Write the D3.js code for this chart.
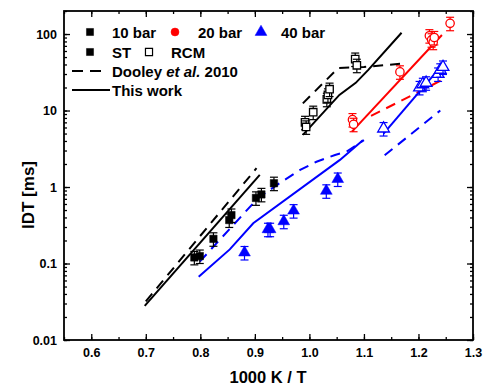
<!DOCTYPE html>
<html>
<head>
<meta charset="utf-8">
<script src="https://cdn.jsdelivr.net/npm/d3@7/dist/d3.min.js"></script>
<style>
  html, body { margin: 0; padding: 0; background: #fff; }
  svg { display: block; font-family: Arial, "Liberation Sans", sans-serif; }
</style>
</head>
<body>
<svg id="chart" width="483" height="387"></svg>
<script>
// ---- data: [1000K/T, IDT ms] ----
const st10 = [[0.789, 0.12], [0.799, 0.125], [0.824, 0.21], [0.853, 0.37], [0.857, 0.43],
  [0.902, 0.72], [0.912, 0.80], [0.935, 1.12]];
const st40 = [[0.881, 0.139], [0.924, 0.28], [0.928, 0.28], [0.953, 0.356], [0.971, 0.49],
  [1.031, 0.89], [1.052, 1.27]];
const rcm10 = [[0.992, 7.0], [0.994, 6.1], [1.007, 9.5], [1.032, 14], [1.034, 16],
  [1.037, 19], [1.084, 47], [1.087, 39]];
const rcm20 = [[1.079, 7.6], [1.081, 6.6], [1.166, 32], [1.22, 95], [1.224, 84],
  [1.227, 78], [1.229, 90], [1.258, 138]];
const rcm40 = [[1.136, 5.8], [1.202, 20], [1.208, 22], [1.214, 23], [1.236, 30],
  [1.24, 34], [1.245, 37]];
const errFrac = 0.2;

// model curves
const dooley10st = [[0.70, 0.032], [0.903, 1.76]];
const work10st = [[0.698, 0.028], [0.909, 1.44]];
const dooley10rcm = [[0.988, 12.4], [1.053, 36], [1.10, 37], [1.17, 41]];
const work10rcm = [[0.988, 4.8], [1.055, 16], [1.085, 23], [1.108, 34], [1.169, 104]];
const dooley20rcm = [[1.113, 8.5], [1.243, 25]];
const work20rcm = [[1.078, 5.3], [1.243, 97]];
const dooley40st = [[0.799, 0.106], [0.906, 0.72], [0.949, 1.17], [0.983, 1.67],
  [1.013, 2.14], [1.047, 2.62], [1.068, 2.9], [1.10, 4.1]];
const work40st = [[0.797, 0.067], [0.854, 0.153], [0.897, 0.336], [1.056, 2.26], [1.098, 4.1]];
const dooley40rcm = [[1.138, 2.6], [1.24, 10]];
const work40rcm = [[1.136, 5.0], [1.243, 39]];

const xTicks = [0.6, 0.7, 0.8, 0.9, 1.0, 1.1, 1.2, 1.3];
const yTicks = [0.01, 0.1, 1, 10, 100];

const colors = { black: '#000000', red: '#ff0000', blue: '#0000ff' };

const svg = d3.select('#chart');
const x = d3.scaleLinear().domain([0.55, 1.3]).range([64, 473]);
const y = d3.scaleLog().domain([0.01, 200]).range([340, 11]);

// ---- axes (inward ticks on all sides) ----
const xMinor = d3.range(0.55, 1.301, 0.05).map(v => +v.toFixed(2));
const yMinor = [];
[0.01, 0.1, 1, 10, 100].forEach(d => { for (let k = 1; k <= 9; k++) if (d * k <= 200) yMinor.push(d * k); });

function styleAxis(g) {
  g.select('.domain').remove();
  g.selectAll('line').attr('stroke', '#000').attr('stroke-width', 1.3);
  g.selectAll('text').attr('font-size', 12.5).attr('font-weight', 'bold').attr('fill', '#000');
}

svg.append('g').attr('transform', 'translate(0,340)')
  .call(d3.axisBottom(x).tickValues(xMinor).tickSize(-3).tickFormat(''))
  .call(styleAxis);
svg.append('g').attr('transform', 'translate(0,340)')
  .call(d3.axisBottom(x).tickValues(xTicks).tickSize(-6).tickPadding(8).tickFormat(d3.format('.1f')))
  .call(styleAxis);
svg.append('g').attr('transform', 'translate(0,11)')
  .call(d3.axisTop(x).tickValues(xMinor).tickSize(-3).tickFormat(''))
  .call(styleAxis);
svg.append('g').attr('transform', 'translate(0,11)')
  .call(d3.axisTop(x).tickValues(xTicks).tickSize(-6).tickFormat(''))
  .call(styleAxis);

svg.append('g').attr('transform', 'translate(64,0)')
  .call(d3.axisLeft(y).tickValues(yMinor).tickSize(-3).tickFormat(''))
  .call(styleAxis);
svg.append('g').attr('transform', 'translate(64,0)')
  .call(d3.axisLeft(y).tickValues(yTicks).tickSize(-6).tickPadding(7).tickFormat(d => String(d)))
  .call(styleAxis);
svg.append('g').attr('transform', 'translate(473,0)')
  .call(d3.axisRight(y).tickValues(yMinor).tickSize(-3).tickFormat(''))
  .call(styleAxis);
svg.append('g').attr('transform', 'translate(473,0)')
  .call(d3.axisRight(y).tickValues(yTicks).tickSize(-6).tickFormat(''))
  .call(styleAxis);

svg.append('rect')
  .attr('x', 64).attr('y', 11).attr('width', 409).attr('height', 329)
  .attr('fill', 'none').attr('stroke', '#000').attr('stroke-width', 1.8);

// axis titles
svg.append('text')
  .attr('x', 268).attr('y', 383)
  .attr('text-anchor', 'middle')
  .attr('font-size', 16.5).attr('font-weight', 'bold')
  .text('1000 K / T');
svg.append('text')
  .attr('transform', 'translate(34,195) rotate(-90)')
  .attr('text-anchor', 'middle')
  .attr('font-size', 17).attr('font-weight', 'bold')
  .text('IDT [ms]');

// ---- model lines ----
const plot = svg.append('g');
const line = d3.line().x(d => x(d[0])).y(d => y(d[1]));
function drawLine(data, color, dashed) {
  plot.append('path')
    .datum(data)
    .attr('d', line)
    .attr('fill', 'none')
    .attr('stroke', color)
    .attr('stroke-width', 2)
    .attr('stroke-dasharray', dashed ? '10 7' : null);
}
drawLine(dooley10st, colors.black, true);
drawLine(work10st, colors.black, false);
drawLine(dooley10rcm, colors.black, true);
drawLine(work10rcm, colors.black, false);
drawLine(dooley20rcm, colors.red, true);
drawLine(work20rcm, colors.red, false);
drawLine(dooley40st, colors.blue, true);
drawLine(work40st, colors.blue, false);
drawLine(dooley40rcm, colors.blue, true);
drawLine(work40rcm, colors.blue, false);

// ---- markers with error bars ----
function drawPoints(data, color, shape, filled) {
  const g = plot.append('g');
  const pts = g.selectAll('g').data(data).enter().append('g');
  pts.append('line')
    .attr('x1', d => x(d[0])).attr('x2', d => x(d[0]))
    .attr('y1', d => y(d[1] * (1 + errFrac))).attr('y2', d => y(d[1] * (1 - errFrac)))
    .attr('stroke', color).attr('stroke-width', 1.2);
  [1 + errFrac, 1 - errFrac].forEach(f => {
    pts.append('line')
      .attr('x1', d => x(d[0]) - 4).attr('x2', d => x(d[0]) + 4)
      .attr('y1', d => y(d[1] * f)).attr('y2', d => y(d[1] * f))
      .attr('stroke', color).attr('stroke-width', 1.2);
  });
  const sym = d3.symbol().type(shape).size(shape === d3.symbolTriangle ? 60 : 55);
  pts.append('path')
    .attr('d', sym)
    .attr('transform', d => `translate(${x(d[0])},${y(d[1])})`)
    .attr('fill', filled ? color : '#fff')
    .attr('stroke', color)
    .attr('stroke-width', filled ? 0.5 : 1.3);
}
drawPoints(st10, colors.black, d3.symbolSquare, true);
drawPoints(st40, colors.blue, d3.symbolTriangle, true);
drawPoints(rcm10, colors.black, d3.symbolSquare, false);
drawPoints(rcm20, colors.red, d3.symbolCircle, false);
drawPoints(rcm40, colors.blue, d3.symbolTriangle, false);

// ---- legend ----
const legend = svg.append('g');
function legendText(xp, yp, txt) {
  return legend.append('text').attr('x', xp).attr('y', yp + 5.5)
    .attr('font-size', 15).attr('font-weight', 'bold').text(txt);
}
function legendSym(xp, yp, shape, color, filled) {
  legend.append('path')
    .attr('d', d3.symbol().type(shape).size(shape === d3.symbolTriangle ? 60 : 50))
    .attr('transform', `translate(${xp},${yp})`)
    .attr('fill', filled ? color : '#fff')
    .attr('stroke', color).attr('stroke-width', filled ? 0.5 : 1.2);
}
legendSym(90, 32, d3.symbolSquare, colors.black, true);
legendText(112, 32, '10 bar');
legendSym(175, 32, d3.symbolCircle, colors.red, true);
legendText(198, 32, '20 bar');
legendSym(261, 32, d3.symbolTriangle, colors.blue, true);
legendText(281, 32, '40 bar');
legendSym(90, 52, d3.symbolSquare, colors.black, true);
legendText(112, 52, 'ST');
legendSym(149, 52, d3.symbolSquare, colors.black, false);
legendText(171, 52, 'RCM');

legend.append('line')
  .attr('x1', 72).attr('x2', 102).attr('y1', 71).attr('y2', 71)
  .attr('stroke', '#000').attr('stroke-width', 2).attr('stroke-dasharray', '11 7');
const dt = legendText(112, 71, 'Dooley ');
dt.append('tspan').attr('font-style', 'italic').text('et al.');
dt.append('tspan').text(' 2010');
legend.append('line')
  .attr('x1', 72).attr('x2', 110).attr('y1', 90).attr('y2', 90)
  .attr('stroke', '#000').attr('stroke-width', 2);
legendText(112, 90, 'This work');
</script>
</body>
</html>
